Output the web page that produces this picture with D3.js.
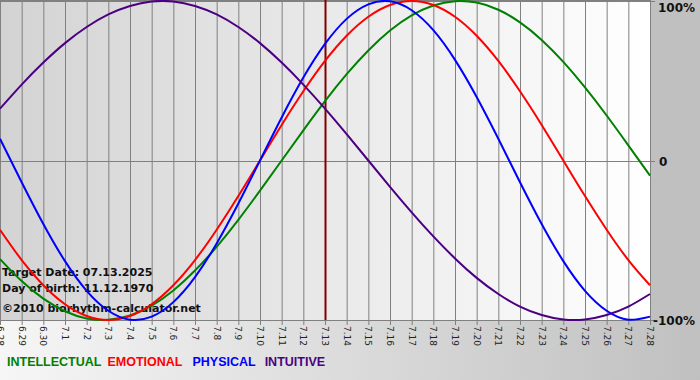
<!DOCTYPE html>
<html><head><meta charset="utf-8">
<script src="https://cdn.jsdelivr.net/npm/d3@7"></script>
<style>html,body{margin:0;padding:0;background:#c0c0c0;}svg{display:block;}</style>
</head><body>
<script>
const dates = ["6.28","6.29","6.30","7.1","7.2","7.3","7.4","7.5","7.6","7.7","7.8","7.9","7.10","7.11","7.12","7.13","7.14","7.15","7.16","7.17","7.18","7.19","7.20","7.21","7.22","7.23","7.24","7.25","7.26","7.27","7.28"];
const intellectual = [-61.8,-75.6,-86.6,-94.5,-99.0,-99.9,-97.2,-91.0,-81.5,-69.0,-54.1,-37.2,-18.9,0,18.9,37.2,54.1,69.0,81.5,91.0,97.2,99.9,99.0,94.5,86.6,75.6,61.8,45.8,28.2,9.5,-9.5];
const emotional = [-43.4,-62.4,-78.2,-90.1,-97.5,-100,-97.5,-90.1,-78.2,-62.4,-43.4,-22.3,0,22.3,43.4,62.4,78.2,90.1,97.5,100,97.5,90.1,78.2,62.4,43.4,22.3,0,-22.3,-43.4,-62.4,-78.2];
const physical = [13.6,-13.6,-39.8,-63.1,-81.7,-94.2,-99.8,-97.9,-88.8,-73.1,-52.0,-27.0,0,27.0,52.0,73.1,88.8,97.9,99.8,94.2,81.7,63.1,39.8,13.6,-13.6,-39.8,-63.1,-81.7,-94.2,-99.8,-97.9];
const intuitive = [32.5,47.6,61.4,73.6,83.7,91.6,96.9,99.7,99.7,96.9,91.6,83.7,73.6,61.4,47.6,32.5,16.5,0,-16.5,-32.5,-47.6,-61.4,-73.6,-83.7,-91.6,-96.9,-99.7,-99.7,-96.9,-91.6,-83.7];
const yTicks = [{v:100,t:"100%"},{v:0,t:"0"},{v:-100,t:"-100%"}];
const targetDate = "7.13";
const infoLines = ["Target Date: 07.13.2025","Day of birth: 11.12.1970","©2010 biorhythm-calculator.net"];
const series = [
  {name:"INTELLECTUAL", values:intellectual, color:"#008000"},
  {name:"EMOTIONAL", values:emotional, color:"#ff0000"},
  {name:"PHYSICAL", values:physical, color:"#0000ff"},
  {name:"INTUITIVE", values:intuitive, color:"#4b0082"}
];

const W=700,H=380, L=0, R=651, T=0, B=320;
const svg = d3.select("body").append("svg").attr("width",W).attr("height",H);
const defs = svg.append("defs");
const g1 = defs.append("linearGradient").attr("id","plotbg").attr("x1","0").attr("x2","1").attr("y1","0").attr("y2","0");
g1.append("stop").attr("offset","0").attr("stop-color","#d3d3d3");
g1.append("stop").attr("offset","1").attr("stop-color","#ffffff");
const g2 = defs.append("linearGradient").attr("id","botbg").attr("x1","0").attr("x2","1").attr("y1","0").attr("y2","0");
g2.append("stop").attr("offset","0").attr("stop-color","#f6f6f6");
g2.append("stop").attr("offset","1").attr("stop-color","#c0c0c0");

svg.append("rect").attr("x",0).attr("y",0).attr("width",W).attr("height",H).attr("fill","#c0c0c0");
svg.append("rect").attr("x",0).attr("y",B).attr("width",W).attr("height",H-B).attr("fill","url(#botbg)");

const x = d3.scalePoint().domain(dates).range([L,R-1]);
const y = d3.scaleLinear().domain([-100,100]).range([B,T+1]);

svg.append("rect").attr("x",L).attr("y",T).attr("width",R-L).attr("height",B-T).attr("fill","url(#plotbg)");

// vertical grid
svg.append("g").selectAll("line").data(dates).join("line")
  .attr("x1",d=>x(d)+0.5).attr("x2",d=>x(d)+0.5).attr("y1",T).attr("y2",B+5)
  .attr("stroke","#808080").attr("stroke-width",1);
// horizontal lines
svg.append("g").selectAll("line").data(yTicks).join("line")
  .attr("x1",L).attr("x2",R+4).attr("y1",d=>Math.round(y(d.v))+0.5).attr("y2",d=>Math.round(y(d.v))+0.5)
  .attr("stroke","#808080").attr("stroke-width",1);
svg.append("line").attr("x1",L).attr("x2",R).attr("y1",0.5).attr("y2",0.5).attr("stroke","#808080");
svg.append("line").attr("x1",R-0.5).attr("x2",R-0.5).attr("y1",0).attr("y2",B).attr("stroke","#808080");

// target line
svg.append("line").attr("x1",x(targetDate)+0.5).attr("x2",x(targetDate)+0.5).attr("y1",T).attr("y2",B)
  .attr("stroke","#800000").attr("stroke-width",2);

// info text
svg.append("g").selectAll("text").data(infoLines).join("text")
  .attr("x",2).attr("y",(d,i)=>[276,292,312][i])
  .attr("font-family","DejaVu Sans").attr("font-weight","bold").attr("font-size",11)
  .attr("fill","#111").text(d=>d);

// curves
const line = d3.line().x((d,i)=>x(dates[i])).y(d=>y(d)).curve(d3.curveNatural);
svg.append("g").selectAll("path").data(series).join("path")
  .attr("d",d=>line(d.values)).attr("fill","none").attr("stroke",d=>d.color).attr("stroke-width",2);

// y labels
svg.append("g").selectAll("text").data(yTicks).join("text")
  .attr("x",d=>d.v===0?659:(d.v===100?658:653))
  .attr("y",d=>d.v===100?12:y(d.v)+5)
  .attr("font-family","DejaVu Sans").attr("font-weight","bold").attr("font-size",12)
  .attr("fill","#111").text(d=>d.t);

// x labels rotated
svg.append("g").selectAll("text").data(dates).join("text")
  .attr("transform",d=>`translate(${x(d)-3},${B+6}) rotate(90)`)
  .attr("font-family","DejaVu Sans").attr("font-size",9).attr("fill","#222")
  .text(d=>d);

// legend
const leg = svg.append("text").attr("x",7).attr("y",366).attr("font-family","Liberation Sans").attr("font-weight","bold").attr("font-size",12.5);
const gaps = [0,6,10,9];
series.forEach((s,i)=>{
  leg.append("tspan").attr("fill",s.color).attr("dx",gaps[i]).text(s.name);
});
</script>
</body></html>
